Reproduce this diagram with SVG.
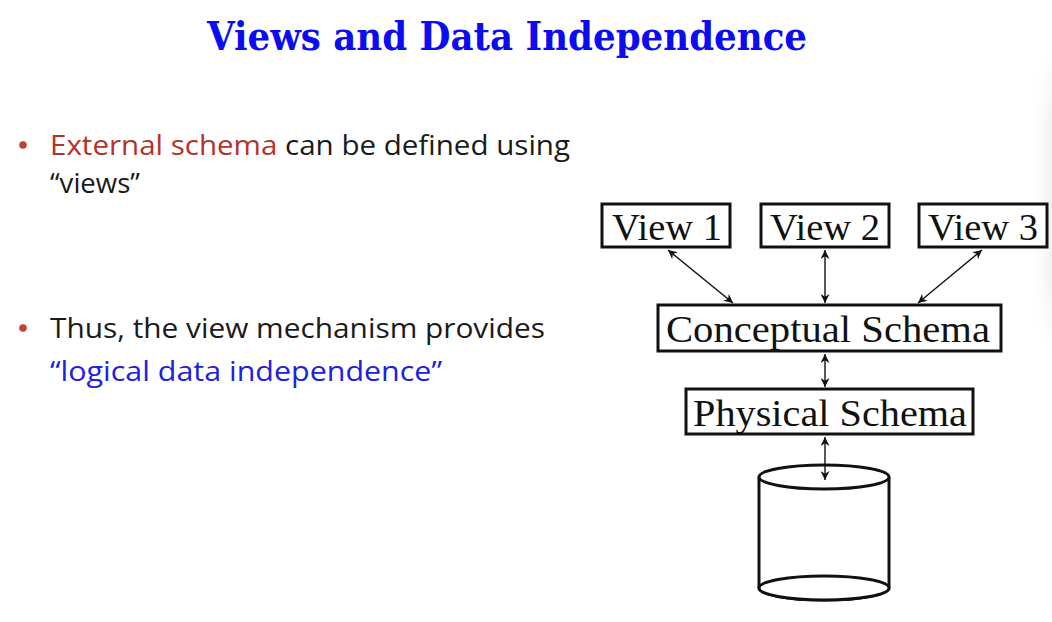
<svg xmlns="http://www.w3.org/2000/svg" width="1052" height="622" viewBox="0 0 1052 622">
  <defs>
    <marker id="ah" viewBox="0 0 10 10" refX="10" refY="5" markerWidth="9" markerHeight="9" markerUnits="userSpaceOnUse" orient="auto-start-reverse">
      <path d="M0,0 L10,5 L0,10 L3,5 Z" fill="#111"/>
    </marker>
    <linearGradient id="edge" x1="0" y1="0" x2="1" y2="0">
      <stop offset="0" stop-color="#ffffff" stop-opacity="0"/>
      <stop offset="1" stop-color="#f0f0f0"/>
    </linearGradient>
    <linearGradient id="edgeMask" x1="0" y1="0" x2="0" y2="1">
      <stop offset="0" stop-color="#fff" stop-opacity="0"/>
      <stop offset="0.25" stop-color="#fff" stop-opacity="1"/>
      <stop offset="0.75" stop-color="#fff" stop-opacity="1"/>
      <stop offset="1" stop-color="#fff" stop-opacity="0"/>
    </linearGradient>
    <mask id="fade">
      <rect x="1030" y="50" width="22" height="300" fill="url(#edgeMask)"/>
    </mask>
    <style>
      .title { font-family: "DejaVu Serif", "Liberation Serif", serif; font-stretch: condensed; font-weight: bold; font-size: 40px; fill: #0c0cf0; }
      .bul { font-family: "Open Sans", "Liberation Sans", sans-serif; font-size: 27px; fill: #1a1a1a; }
      .red { fill: #b5312b; }
      .blue { fill: #2020e0; }
      .dot { fill: #c0403a; }
      .box { fill: #ffffff; stroke: #111; stroke-width: 3; }
      .lbl { font-family: "Liberation Serif", serif; font-size: 38px; fill: #111; }
      .conn line { stroke: #111; stroke-width: 1.4; marker-start: url(#ah); marker-end: url(#ah); }
      .cyl { fill: #ffffff; stroke: #111; stroke-width: 3; }
    </style>
  </defs>
  <rect width="1052" height="622" fill="#ffffff"/>
  <rect x="1030" y="50" width="22" height="300" fill="url(#edge)" mask="url(#fade)"/>

  <text class="title" x="207" y="50" textLength="600" lengthAdjust="spacingAndGlyphs">Views and Data Independence</text>

  <g id="bullets">
    <circle class="dot" cx="23" cy="145" r="3.8"/>
    <text class="bul" x="50" y="155" textLength="520" lengthAdjust="spacingAndGlyphs"><tspan class="red">External schema</tspan> can be defined using</text>
    <text class="bul" x="50" y="193" textLength="90" lengthAdjust="spacingAndGlyphs">“views”</text>
    <circle class="dot" cx="23" cy="328" r="3.8"/>
    <text class="bul" x="50" y="338" textLength="495" lengthAdjust="spacingAndGlyphs">Thus, the view mechanism provides</text>
    <text class="bul blue" x="50" y="381" textLength="392" lengthAdjust="spacingAndGlyphs">“logical data independence”</text>
  </g>

  <g id="view1">
    <rect class="box" x="602" y="204" width="128" height="43"/>
    <text class="lbl" x="612" y="240" textLength="110" lengthAdjust="spacingAndGlyphs">View 1</text>
  </g>
  <g id="view2">
    <rect class="box" x="761" y="204" width="128" height="43"/>
    <text class="lbl" x="770" y="240" textLength="110" lengthAdjust="spacingAndGlyphs">View 2</text>
  </g>
  <g id="view3">
    <rect class="box" x="919" y="204" width="128" height="43"/>
    <text class="lbl" x="928" y="240" textLength="110" lengthAdjust="spacingAndGlyphs">View 3</text>
  </g>
  <g id="conceptual">
    <rect class="box" x="658" y="305" width="343" height="46"/>
    <text class="lbl" x="666" y="342" textLength="324" lengthAdjust="spacingAndGlyphs">Conceptual Schema</text>
  </g>
  <g id="physical">
    <rect class="box" x="686" y="389" width="287" height="45"/>
    <text class="lbl" x="693" y="426" textLength="274" lengthAdjust="spacingAndGlyphs">Physical Schema</text>
  </g>
  <g id="disk">
    <path class="cyl" d="M759,477 L759,588 A65,12 0 0 0 889,588 L889,477"/>
    <ellipse class="cyl" cx="824" cy="588" rx="65" ry="12"/>
    <ellipse class="cyl" cx="824" cy="477" rx="65" ry="12"/>
  </g>

  <g id="connectors" class="conn">
    <line x1="668" y1="250" x2="733" y2="303"/>
    <line x1="825" y1="250" x2="825" y2="303"/>
    <line x1="982" y1="250" x2="918" y2="303"/>
    <line x1="825" y1="354" x2="825" y2="387"/>
    <line x1="825" y1="437" x2="825" y2="480"/>
  </g>
</svg>
